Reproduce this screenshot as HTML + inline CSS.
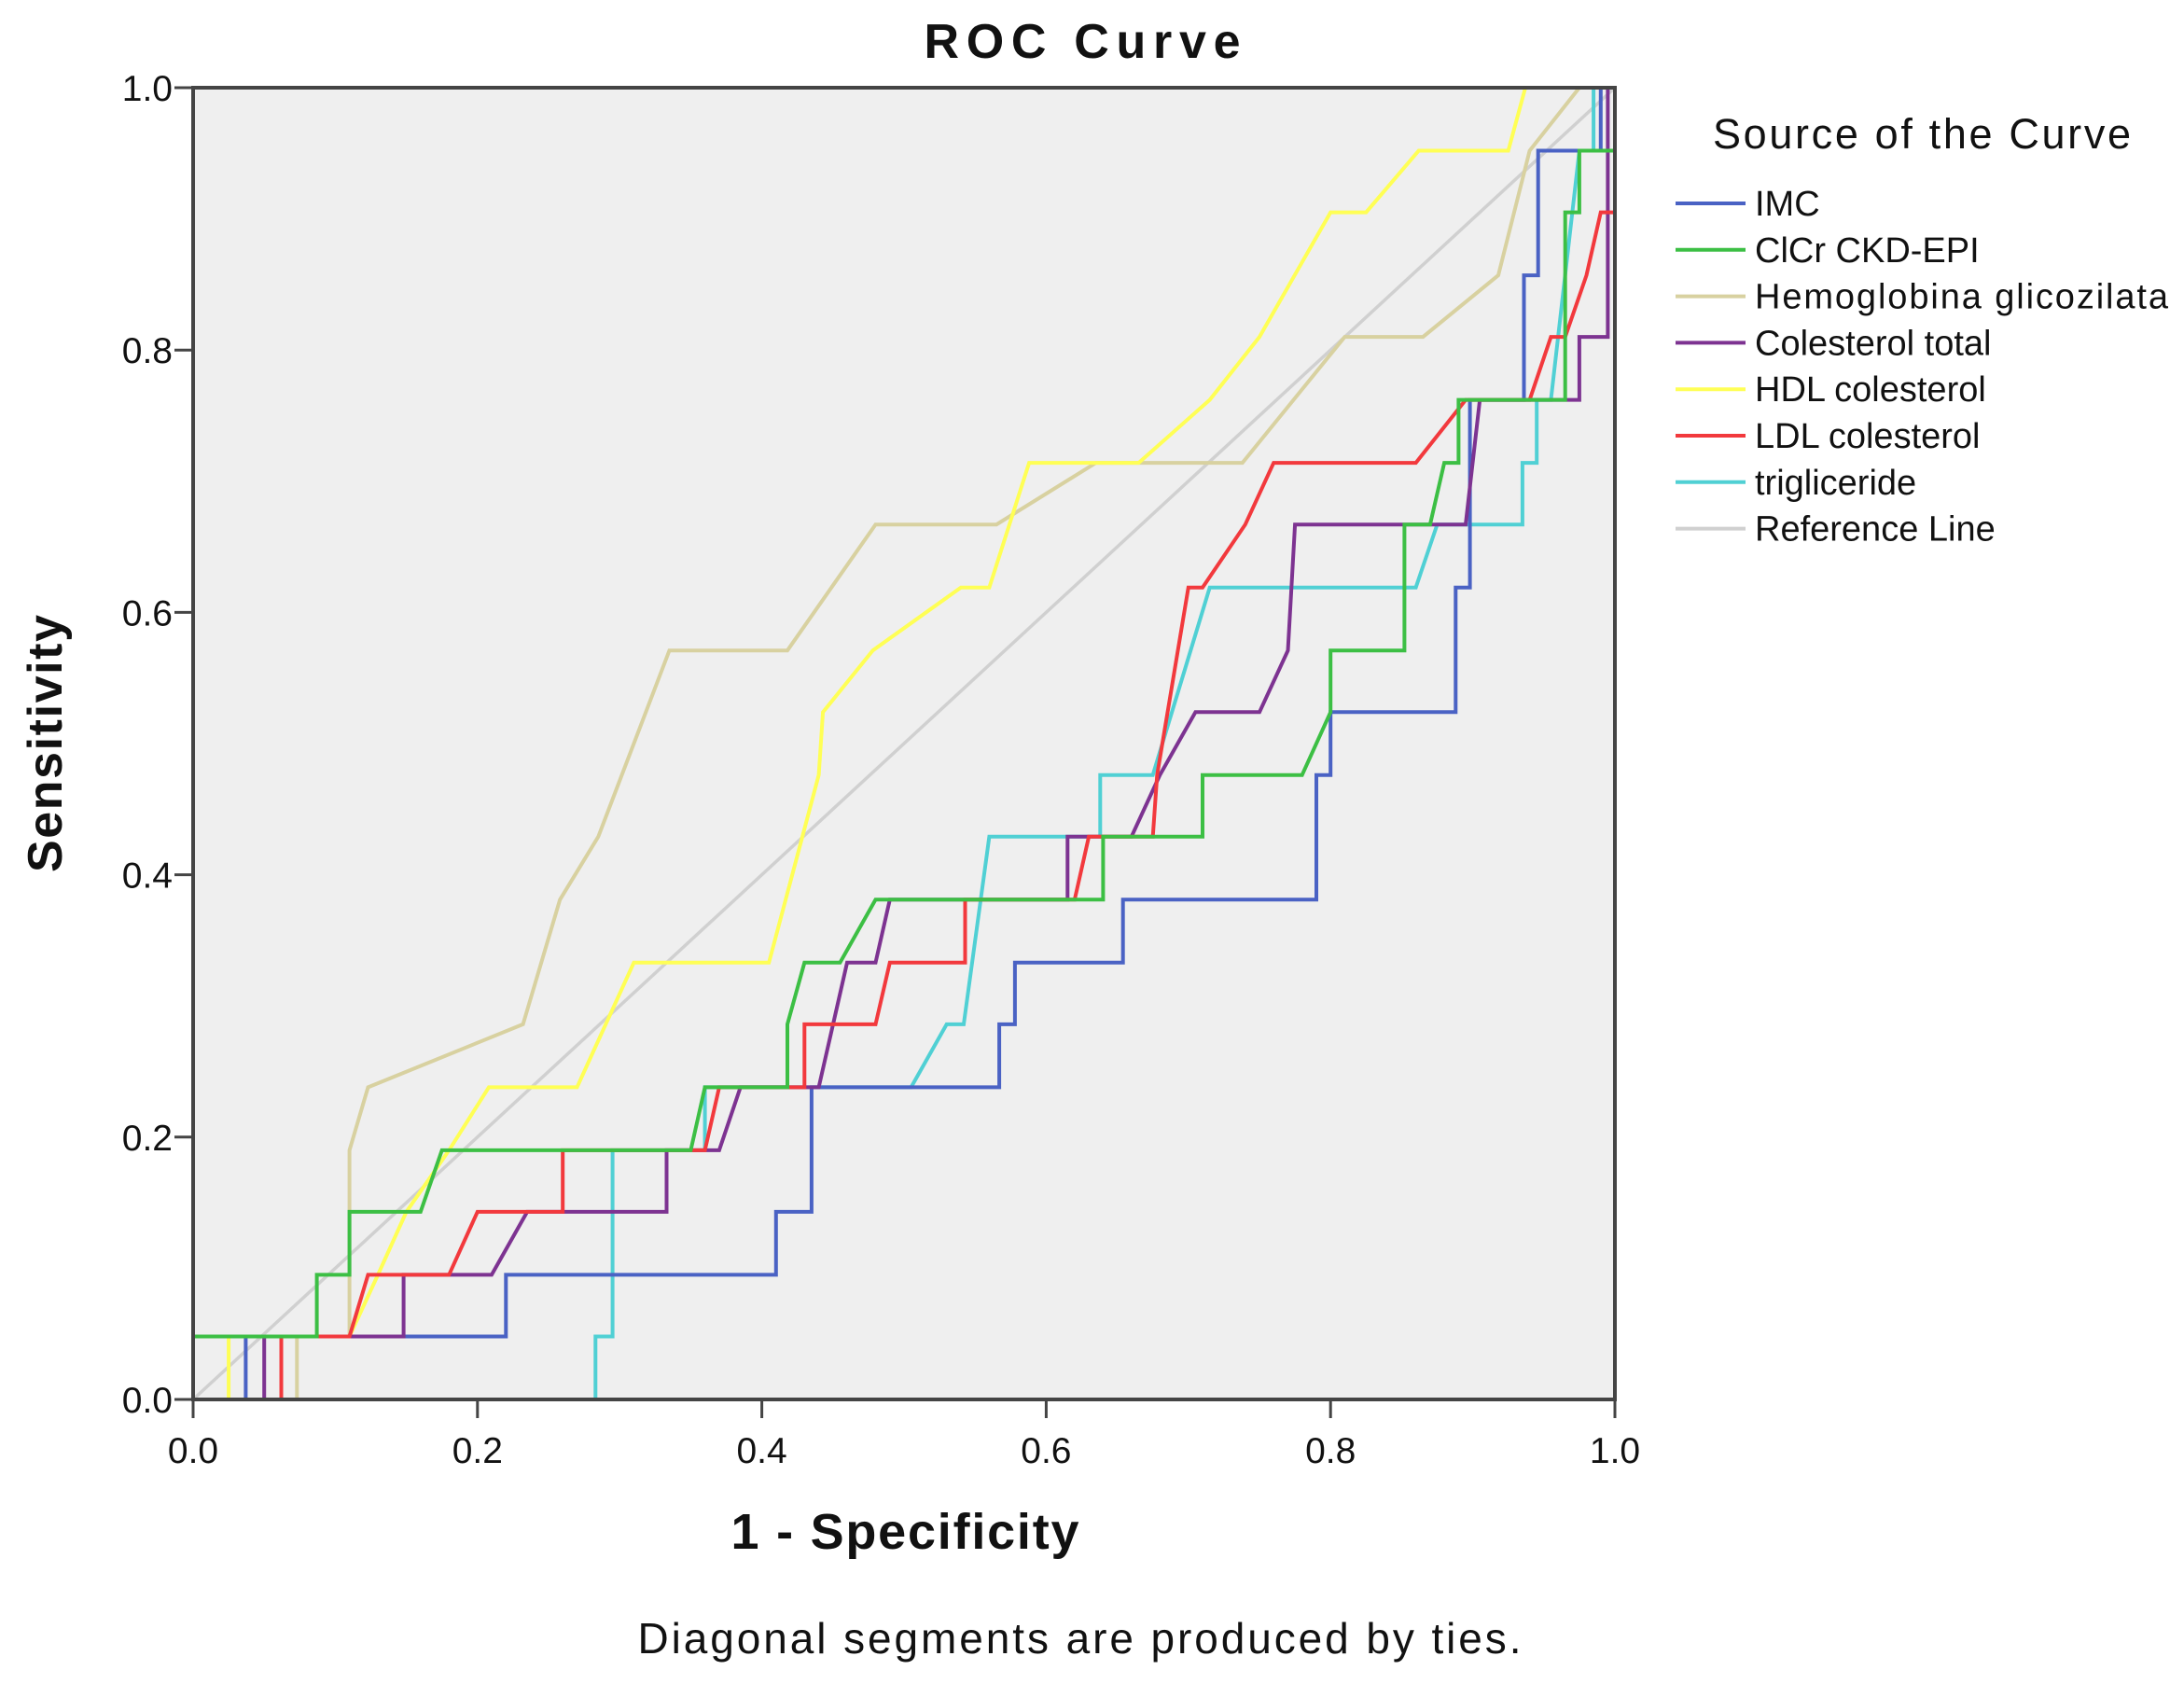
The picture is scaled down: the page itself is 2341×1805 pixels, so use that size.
<!DOCTYPE html>
<html><head><meta charset="utf-8"><style>
html,body{margin:0;padding:0;background:#fff;}
svg text{font-family:"Liberation Sans",Arial,sans-serif;fill:#111;}
</style></head><body>
<svg id="chart" width="2341" height="1800" viewBox="0 0 2341 1800" xmlns="http://www.w3.org/2000/svg">
<rect x="0" y="0" width="2341" height="1800" fill="#fff"/>
<text x="1160" y="62" text-anchor="middle" font-size="52" font-weight="bold" textLength="339">ROC Curve</text>
<rect x="207" y="94" width="1524" height="1406" fill="#efefef"/>
<g id="series"></g>
<rect x="207" y="94" width="1524" height="1406" fill="none" stroke="#444" stroke-width="4"/>
<g id="axes"></g>
<text x="970" y="1660" text-anchor="middle" font-size="54" font-weight="bold" textLength="373">1 - Specificity</text>
<text transform="translate(66,797) rotate(-90)" text-anchor="middle" font-size="52" font-weight="bold" textLength="276">Sensitivity</text>
<text x="1157" y="1772" text-anchor="middle" font-size="46" textLength="947">Diagonal segments are produced by ties.</text>
<text x="1836" y="159" font-size="45" textLength="448">Source of the Curve</text>
<g id="legend"></g>
</svg>
<script>
const seriesNames = ["IMC","ClCr CKD-EPI","Hemoglobina glicozilata","Colesterol total","HDL colesterol","LDL colesterol","trigliceride"];
const seriesColors = ["#4a62c4","#3cbf44","#d8d1a0","#7d3391","#ffff55","#f2393d","#50d0d4"];
const xTicks = [0,0.2,0.4,0.6,0.8,1.0];
const yTicks = [0,0.2,0.4,0.6,0.8,1.0];
const tickLabels = ["0.0","0.2","0.4","0.6","0.8","1.0"];
const imcX = [0,0.037,0.037,0.22,0.22,0.41,0.41,0.435,0.435,0.567,0.567,0.578,0.578,0.654,0.654,0.79,0.79,0.80,0.80,0.888,0.888,0.898,0.898,0.936,0.936,0.946,0.946,0.99,0.99,1];
const imcY = [0,0,0.048,0.048,0.095,0.095,0.143,0.143,0.238,0.238,0.286,0.286,0.333,0.333,0.381,0.381,0.476,0.476,0.524,0.524,0.619,0.619,0.762,0.762,0.857,0.857,0.952,0.952,1,1];
const clcrX = [0,0,0.087,0.087,0.11,0.11,0.16,0.175,0.35,0.36,0.418,0.418,0.43,0.455,0.48,0.64,0.64,0.71,0.71,0.78,0.80,0.80,0.852,0.852,0.87,0.88,0.89,0.89,0.965,0.965,0.975,0.975,1,1];
const clcrY = [0,0.048,0.048,0.095,0.095,0.143,0.143,0.19,0.19,0.238,0.238,0.286,0.333,0.333,0.381,0.381,0.429,0.429,0.476,0.476,0.524,0.571,0.571,0.667,0.667,0.714,0.714,0.762,0.762,0.905,0.905,0.952,0.952,1];
const hbX = [0,0.073,0.073,0.11,0.11,0.123,0.232,0.258,0.285,0.335,0.418,0.48,0.565,0.635,0.738,0.81,0.865,0.918,0.94,0.975,1];
const hbY = [0,0,0.048,0.048,0.19,0.238,0.286,0.381,0.429,0.571,0.571,0.667,0.667,0.714,0.714,0.81,0.81,0.857,0.952,1,1];
const ctX = [0,0.05,0.05,0.148,0.148,0.21,0.235,0.333,0.333,0.37,0.385,0.44,0.46,0.48,0.49,0.615,0.615,0.66,0.68,0.705,0.75,0.77,0.775,0.895,0.905,0.975,0.975,0.995,0.995,1];
const ctY = [0,0,0.048,0.048,0.095,0.095,0.143,0.143,0.19,0.19,0.238,0.238,0.333,0.333,0.381,0.381,0.429,0.429,0.476,0.524,0.524,0.571,0.667,0.667,0.762,0.762,0.81,0.81,1,1];
const hdlX = [0,0.025,0.025,0.11,0.13,0.15,0.18,0.208,0.27,0.31,0.405,0.44,0.443,0.478,0.54,0.56,0.588,0.665,0.715,0.75,0.8,0.825,0.862,0.925,0.937,1];
const hdlY = [0,0,0.048,0.048,0.095,0.143,0.19,0.238,0.238,0.333,0.333,0.476,0.524,0.571,0.619,0.619,0.714,0.714,0.762,0.81,0.905,0.905,0.952,0.952,1,1];
const ldlX = [0,0.062,0.062,0.11,0.123,0.18,0.2,0.26,0.26,0.36,0.37,0.43,0.43,0.48,0.49,0.543,0.543,0.62,0.63,0.675,0.678,0.70,0.71,0.74,0.76,0.86,0.895,0.94,0.955,0.965,0.98,0.99,1.0,1.0];
const ldlY = [0,0,0.048,0.048,0.095,0.095,0.143,0.143,0.19,0.19,0.238,0.238,0.286,0.286,0.333,0.333,0.381,0.381,0.429,0.429,0.476,0.619,0.619,0.667,0.714,0.714,0.762,0.762,0.81,0.81,0.857,0.905,0.905,1];
const trigX = [0,0.283,0.283,0.295,0.295,0.36,0.36,0.505,0.53,0.542,0.56,0.638,0.638,0.675,0.715,0.86,0.875,0.935,0.935,0.945,0.945,0.955,0.975,0.985,0.985,1];
const trigY = [0,0,0.048,0.048,0.19,0.19,0.238,0.238,0.286,0.286,0.429,0.429,0.476,0.476,0.619,0.619,0.667,0.667,0.714,0.714,0.762,0.762,0.952,0.952,1,1];
const seriesXs = [imcX,clcrX,hbX,ctX,hdlX,ldlX,trigX];
const seriesYs = [imcY,clcrY,hbY,ctY,hdlY,ldlY,trigY];
const refX = [0,1];
const refY = [0,1];

const NS="http://www.w3.org/2000/svg";
const X0=207,X1=1731,Y0=1500,Y1=94;
function sx(v){return X0+(X1-X0)*v;}
function sy(v){return Y0-(Y0-Y1)*v;}
function mk(tag,attrs,parent){const e=document.createElementNS(NS,tag);for(const k in attrs)e.setAttribute(k,attrs[k]);parent.appendChild(e);return e;}
const sg=document.getElementById('series');
function pts(xs,ys){return xs.map((x,i)=>sx(x).toFixed(1)+','+sy(ys[i]).toFixed(1)).join(' ');}
let r=mk('polyline',{points:pts(refX,refY),fill:'none',stroke:'#d0d0d0','stroke-width':3.5},sg);


const order=[2,4,6,0,3,5,1];
order.forEach(i=>{
  const p=mk('polyline',{points:pts(seriesXs[i],seriesYs[i]),fill:'none',stroke:seriesColors[i],'stroke-width':4,'stroke-linejoin':'miter'},sg);
  
  
});
const ag=document.getElementById('axes');
xTicks.forEach((v,i)=>{
  const t=mk('line',{x1:sx(v),x2:sx(v),y1:Y0,y2:Y0+20,stroke:'#444','stroke-width':3},ag);
  
  
  const l=mk('text',{x:sx(v),y:1568,'text-anchor':'middle','font-size':39},ag);
  l.textContent=tickLabels[i];
  
  
});
yTicks.forEach((v,i)=>{
  const t=mk('line',{x1:X0-20,x2:X0,y1:sy(v),y2:sy(v),stroke:'#444','stroke-width':3},ag);
  
  
  const l=mk('text',{x:X0-22,y:sy(v)+14,'text-anchor':'end','font-size':39},ag);
  l.textContent=tickLabels[i];
  
  
});
const lg=document.getElementById('legend');
const legNames=seriesNames.concat(["Reference Line"]);
const legColors=seriesColors.concat(["#d0d0d0"]);
legNames.forEach((n,i)=>{
  const y=218+i*49.8;
  const g=mk('g',{},lg);
  
  
  mk('line',{x1:1796,x2:1871,y1:y,y2:y,stroke:legColors[i],'stroke-width':4},g);
  const t=mk('text',{x:1881,y:y+13,'font-size':38},g);
  t.textContent=n;
  if(i===2) t.setAttribute('textLength','443');
});
</script>
</body></html>
